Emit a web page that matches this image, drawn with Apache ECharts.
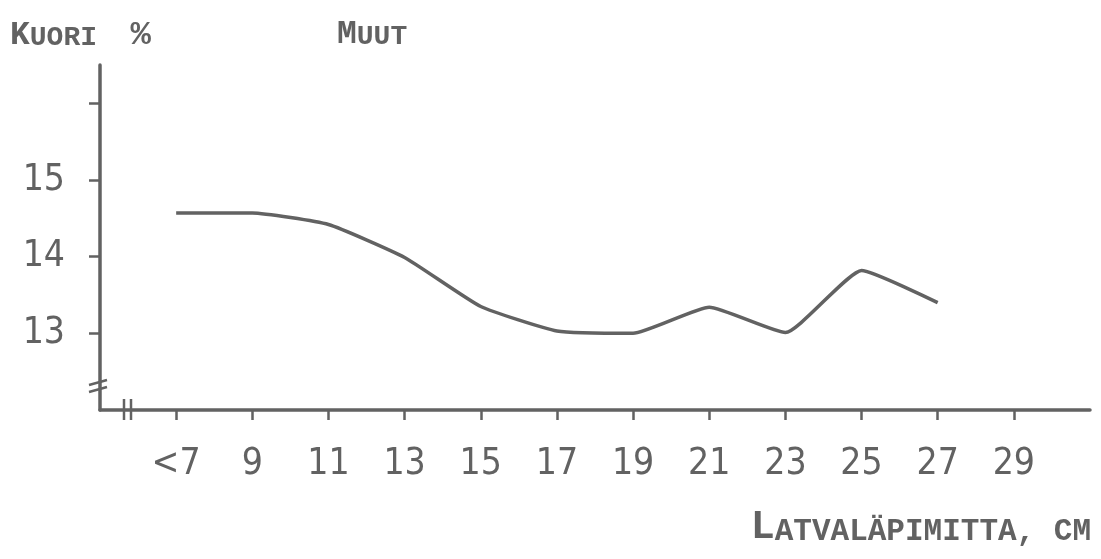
<!DOCTYPE html>
<html>
<head>
<meta charset="utf-8">
<script src="https://cdn.jsdelivr.net/npm/echarts@6/dist/echarts.min.js"></script>
<style>
  html, body { margin: 0; padding: 0; background: #fff; }
  #chart { width: 1101px; height: 559px; }
</style>
</head>
<body>
<div id="chart"></div>
<script>
// latvaläpimitta luokat (cm), reunoilla tyhjät paikat
const categories = ["", "<7", "9", "11", "13", "15", "17", "19", "21", "23", "25", "27", "29", ""];
// kuoren osuus %, "muut" puulajit
const kuori = [null, 14.57, 14.57, 14.42, 13.99, 13.35, 13.03, 13.0, 13.34, 13.01, 13.82, 13.4, null, null];
const yTicks = [13, 14, 15, 16];
const yLabels = [13, 14, 15];

const ink = "#626262";
const mono = "'Liberation Mono', 'DejaVu Sans Mono', monospace";
const narrow = "'Liberation Sans Narrow', 'DejaVu Sans Condensed', sans-serif";

let chart = echarts.init(document.getElementById("chart"));
chart.setOption({
  backgroundColor: "#fff",
  animation: false,
  grid: { left: 100, right: 11, top: 65, bottom: 149 },
  xAxis: {
    type: "category",
    data: categories,
    boundaryGap: false,
    axisLine: { lineStyle: { color: ink, width: 3.5 } },
    axisTick: {
      length: 10,
      interval: (i) => i > 0 && i < categories.length - 1,
      lineStyle: { color: ink, width: 2.5 },
    },
    axisLabel: {
      interval: 0,
      margin: 36,
      color: ink,
      fontFamily: narrow,
      fontSize: 37,
      lineHeight: 37,
    },
    splitLine: { show: false },
  },
  yAxis: {
    type: "value",
    min: 12,
    max: 16.5,
    axisLine: { show: true, lineStyle: { color: ink, width: 3.5 } },
    axisTick: { show: true, length: 11, customValues: yTicks, lineStyle: { color: ink, width: 2.5 } },
    axisLabel: {
      customValues: yLabels,
      margin: 35,
      color: ink,
      fontFamily: narrow,
      fontSize: 37,
      padding: [12, 0, 0, 0],
    },
    splitLine: { show: false },
  },
  graphic: [
    {
      type: "text",
      left: 10,
      top: 18,
      style: {
        text: "{a|K}{b|UORI  }{c|%}",
        rich: {
          a: { fontSize: 33, fontFamily: mono, fill: ink, fontWeight: "bold", verticalAlign: "bottom" },
          b: { fontSize: 28, fontFamily: mono, fill: ink, fontWeight: "bold", verticalAlign: "bottom" },
          c: { fontSize: 34, fontFamily: mono, fill: ink, fontWeight: "bold", verticalAlign: "bottom" },
        },
      },
    },
    {
      type: "text",
      left: 337,
      top: 18,
      style: {
        text: "{a|M}{b|UUT}",
        rich: {
          a: { fontSize: 33, fontFamily: mono, fill: ink, fontWeight: "bold", verticalAlign: "bottom" },
          b: { fontSize: 28, fontFamily: mono, fill: ink, fontWeight: "bold", verticalAlign: "bottom" },
        },
      },
    },
    {
      type: "text",
      right: 10,
      top: 508,
      style: {
        text: "{a|L}{b|ATVALÄPIMITTA, CM}",
        rich: {
          a: { fontSize: 40, fontFamily: mono, fill: ink, fontWeight: "bold", verticalAlign: "bottom" },
          b: { fontSize: 31, fontFamily: mono, fill: ink, fontWeight: "bold", verticalAlign: "bottom" },
        },
      },
    },
    // akselien katkomerkit
    { type: "line", shape: { x1: 89, y1: 385, x2: 107, y2: 380 }, style: { stroke: ink, lineWidth: 2.5 } },
    { type: "line", shape: { x1: 89, y1: 392, x2: 107, y2: 387 }, style: { stroke: ink, lineWidth: 2.5 } },
    { type: "line", shape: { x1: 124, y1: 399, x2: 124, y2: 420 }, style: { stroke: ink, lineWidth: 2.5 } },
    { type: "line", shape: { x1: 131, y1: 399, x2: 131, y2: 420 }, style: { stroke: ink, lineWidth: 2.5 } },
  ],
  series: [
    {
      type: "line",
      data: kuori,
      showSymbol: false,
      smooth: 0.15,
      lineStyle: { color: ink, width: 3.5 },
    },
  ],
});
</script>
</body>
</html>
